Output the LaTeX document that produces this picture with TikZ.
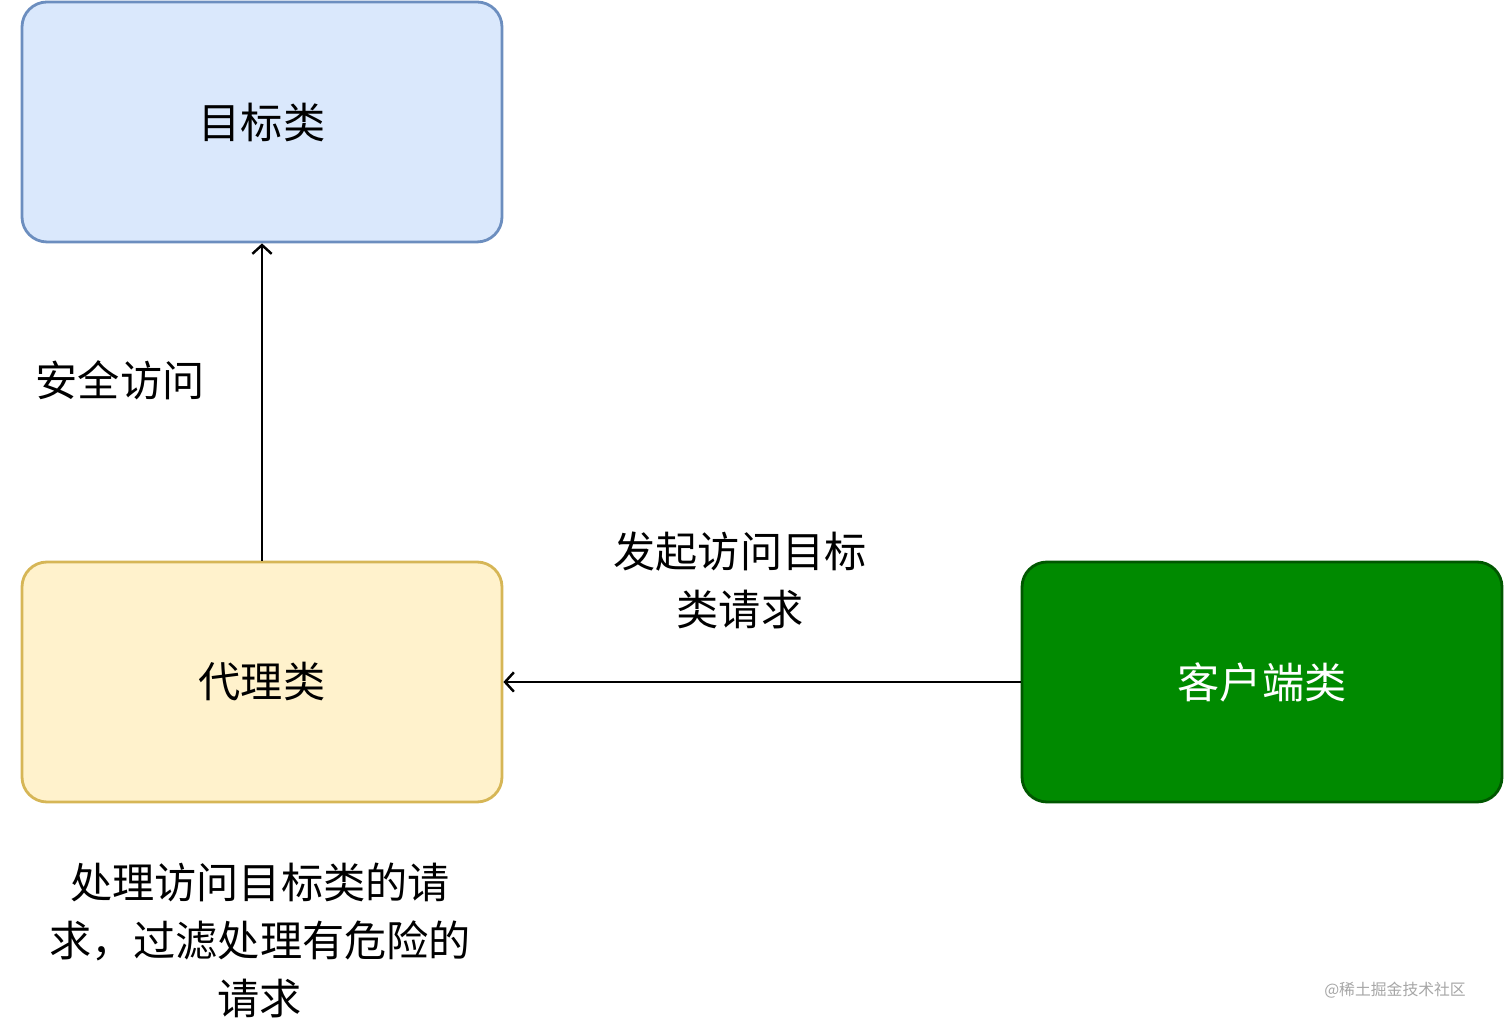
\documentclass[tikz,border=0pt]{standalone}
\usepackage{fontspec}
\setmainfont{Noto Sans CJK SC}
\usetikzlibrary{
    positioning,
    arrows.meta
}
\definecolor{targetfill}{HTML}{DAE8FC}
\definecolor{targetdraw}{HTML}{6C8EBF}
\definecolor{proxyfill}{HTML}{FFF2CC}
\definecolor{proxydraw}{HTML}{D6B656}
\definecolor{clientfill}{HTML}{008A00}
\definecolor{clientdraw}{HTML}{005700}
\tikzset{%
    class box/.style={%
        rectangle,
        draw,
        line width=1.6pt,
        rounded corners=0.5cm,
        minimum width=9.6cm,
        minimum height=4.8cm,
        font=\fontsize{24}{28}\selectfont
    },
    label text/.style={%
        align=center,
        font=\fontsize{24}{33}\selectfont
    },
    arrow/.style={%
        line width=1.6pt,
        -{Straight Barb[length=5pt,width=11pt,line width=1.4pt]}
    },
}
\begin{document}
\begin{tikzpicture}
    \useasboundingbox (0,0) rectangle (30.08,20.56);

    \node[class box, fill=targetfill, draw=targetdraw] (target) at (5.24,18.12) {目标类};
    \node[class box, fill=proxyfill, draw=proxydraw] (proxy) at (5.24,6.92) {代理类};
    \node[class box, fill=clientfill, draw=clientdraw, text=white] (client) at (25.24,6.92) {客户端类};

    \draw[arrow] (proxy) -- (target);
    \draw[arrow] (client) -- (proxy);

    \node[label text] (safe) at (2.4,12.96) {安全访问};
    \node[label text] (request) at (14.8,8.96) {发起访问目标\\类请求};
    \node[label text] (handle) at (5.2,1.76) {处理访问目标类的请\\求，过滤处理有危险的\\请求};
    \node[text=gray!70, font=\fontsize{9}{11}\selectfont] (mark) at (27.9,0.76) {@稀土掘金技术社区};
\end{tikzpicture}
\end{document}
